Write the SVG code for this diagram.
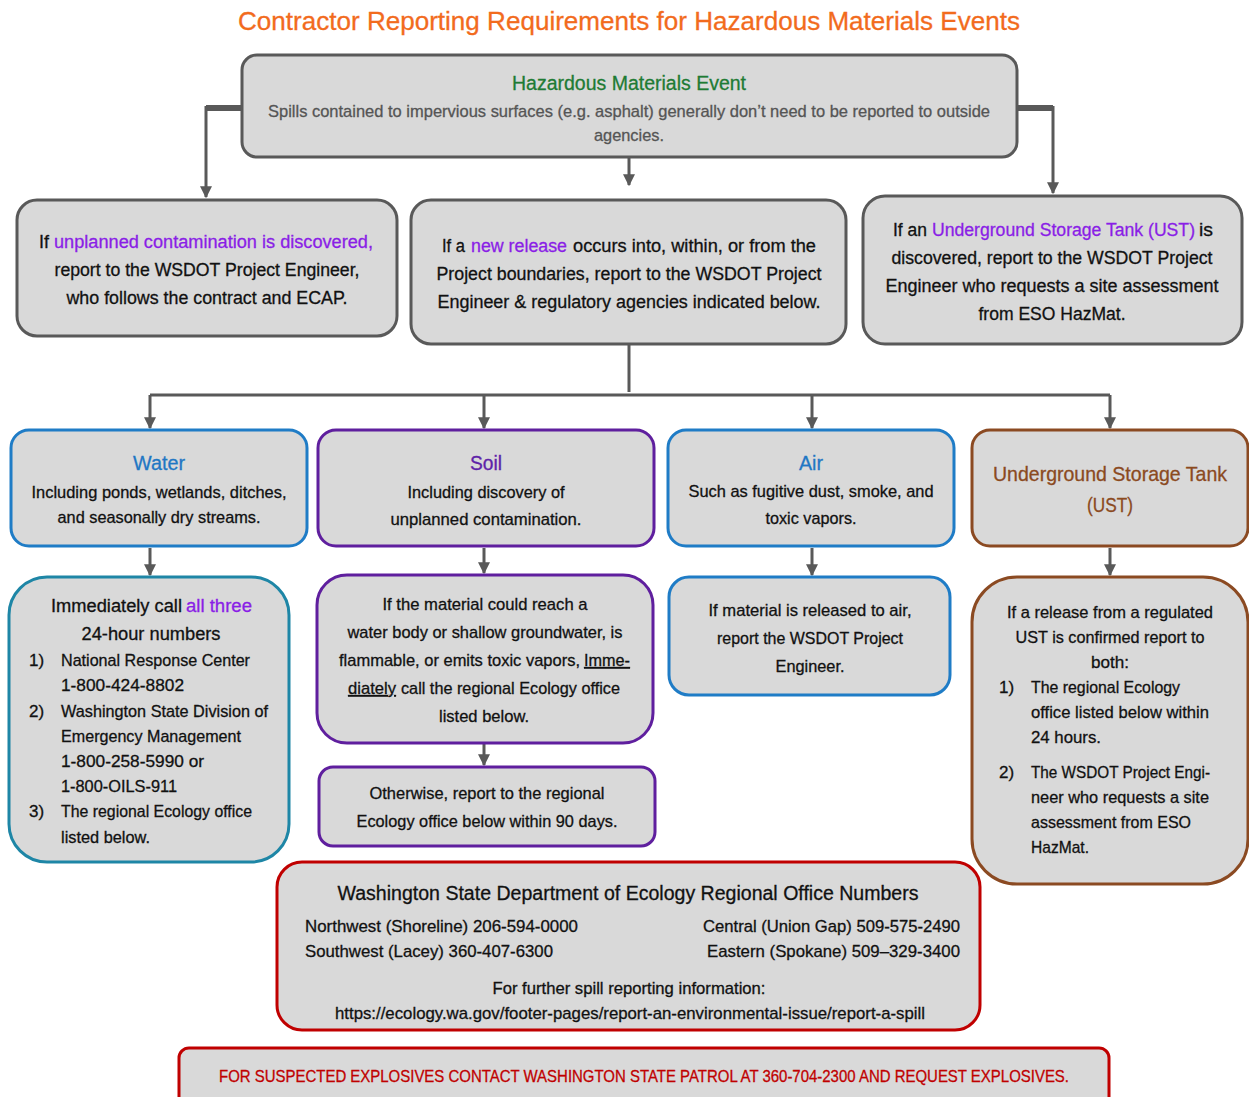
<svg xmlns="http://www.w3.org/2000/svg" width="1249" height="1097" viewBox="0 0 1249 1097">
<defs>
<marker id="ah" viewBox="0 0 10 10" refX="9" refY="5" markerWidth="4" markerHeight="4" orient="auto" markerUnits="strokeWidth">
<path d="M0,0 L10,5 L0,10 z" fill="#595959"/>
</marker>
<style>
text{font-family:"Liberation Sans",Arial,sans-serif;fill:#111;stroke:#111;stroke-width:0.3;}
.b{fill:#d9d9d9;stroke-width:3;}
.g{stroke:#595959;}
.bl{stroke:#1f7cc6;}
.tl{stroke:#1e86a6;}
.pu{stroke:#5f1f9e;}
.br{stroke:#8b4a22;}
.rd{stroke:#c00000;}
.t{font-size:18px;text-anchor:middle;}
.s{font-size:18px;}
.l{font-size:17px;}
.c{text-anchor:middle;}
.vi{fill:#8a1ee6;stroke:#8a1ee6;}
.conn path{fill:none;stroke:#595959;stroke-width:3;}
</style>
</defs>
<rect width="1249" height="1097" fill="#ffffff"/>
<text x="629" y="30" style="font-size:26px;fill:#f26b1d;stroke:#f26b1d" class="c" textLength="782" lengthAdjust="spacingAndGlyphs">Contractor Reporting Requirements for Hazardous Materials Events</text>

<g class="conn">
<path d="M242,108 H206" style="stroke-width:6"/>
<path d="M206,106 V197" marker-end="url(#ah)"/>
<path d="M1017,108 H1053" style="stroke-width:6"/>
<path d="M1053,106 V193" marker-end="url(#ah)"/>
<path d="M629,158 V185" marker-end="url(#ah)"/>
<path d="M629,345 V392"/>
<path d="M150,395 H1110"/>
<path d="M150,395 V428" marker-end="url(#ah)"/>
<path d="M484,395 V428" marker-end="url(#ah)"/>
<path d="M812,395 V428" marker-end="url(#ah)"/>
<path d="M1110,395 V428" marker-end="url(#ah)"/>
<path d="M150,548 V575" marker-end="url(#ah)"/>
<path d="M484,548 V573" marker-end="url(#ah)"/>
<path d="M812,548 V575" marker-end="url(#ah)"/>
<path d="M1110,548 V575" marker-end="url(#ah)"/>
<path d="M484,744 V765" marker-end="url(#ah)"/>
</g>

<g id="top">
<rect class="b g" x="242" y="55" width="775" height="102" rx="15"/>
<text x="629" y="90" style="font-size:20px;fill:#1e7b34;stroke:#1e7b34" class="c" textLength="234" lengthAdjust="spacingAndGlyphs">Hazardous Materials Event</text>
<text x="629" y="117" style="font-size:17px;fill:#555;stroke:#555" class="c" textLength="722" lengthAdjust="spacingAndGlyphs">Spills contained to impervious surfaces (e.g. asphalt) generally don’t need to be reported to outside</text>
<text x="629" y="141" style="font-size:17px;fill:#555;stroke:#555" class="c" textLength="70" lengthAdjust="spacingAndGlyphs">agencies.</text>
</g>

<g id="unplanned">
<rect class="b g" x="17" y="200" width="380" height="136" rx="20"/>
<text class="s" x="39" y="248" textLength="10" lengthAdjust="spacingAndGlyphs">If</text>
<text class="s vi" x="54" y="248" textLength="319" lengthAdjust="spacingAndGlyphs">unplanned contamination is discovered,</text>
<text class="t" x="207" y="276" textLength="305" lengthAdjust="spacingAndGlyphs">report to the WSDOT Project Engineer,</text>
<text class="t" x="207" y="304" textLength="281" lengthAdjust="spacingAndGlyphs">who follows the contract and ECAP.</text>
</g>

<g id="newrelease">
<rect class="b g" x="411" y="200" width="435" height="144" rx="20"/>
<text class="s" x="442" y="252" textLength="23" lengthAdjust="spacingAndGlyphs">If a</text>
<text class="s vi" x="471" y="252" textLength="96" lengthAdjust="spacingAndGlyphs">new release</text>
<text class="s" x="573" y="252" textLength="243" lengthAdjust="spacingAndGlyphs">occurs into, within, or from the</text>
<text class="t" x="629" y="280" textLength="385" lengthAdjust="spacingAndGlyphs">Project boundaries, report to the WSDOT Project</text>
<text class="t" x="629" y="308" textLength="383" lengthAdjust="spacingAndGlyphs">Engineer &amp; regulatory agencies indicated below.</text>
</g>

<g id="ustfound">
<rect class="b g" x="863" y="196" width="379" height="148" rx="22"/>
<text class="s" x="893" y="236" textLength="34" lengthAdjust="spacingAndGlyphs">If an</text>
<text class="s vi" x="932" y="236" textLength="263" lengthAdjust="spacingAndGlyphs">Underground Storage Tank (UST)</text>
<text class="s" x="1199" y="236" textLength="14" lengthAdjust="spacingAndGlyphs">is</text>
<text class="t" x="1052" y="264" textLength="321" lengthAdjust="spacingAndGlyphs">discovered, report to the WSDOT Project</text>
<text class="t" x="1052" y="292" textLength="333" lengthAdjust="spacingAndGlyphs">Engineer who requests a site assessment</text>
<text class="t" x="1052" y="320" textLength="147" lengthAdjust="spacingAndGlyphs">from ESO HazMat.</text>
</g>

<g id="water">
<rect class="b bl" x="11" y="430" width="296" height="116" rx="18"/>
<text x="159" y="470" style="font-size:20px;fill:#1f77c4;stroke:#1f77c4" class="c" textLength="52" lengthAdjust="spacingAndGlyphs">Water</text>
<text class="t" x="159" y="498" style="font-size:17px" textLength="255" lengthAdjust="spacingAndGlyphs">Including ponds, wetlands, ditches,</text>
<text class="t" x="159" y="523" style="font-size:17px" textLength="203" lengthAdjust="spacingAndGlyphs">and seasonally dry streams.</text>
</g>

<g id="soil">
<rect class="b pu" x="318" y="430" width="336" height="116" rx="18"/>
<text x="486" y="470" style="font-size:20px;fill:#5e22a8;stroke:#5e22a8" class="c" textLength="32" lengthAdjust="spacingAndGlyphs">Soil</text>
<text class="t" x="486" y="498" style="font-size:17px" textLength="157" lengthAdjust="spacingAndGlyphs">Including discovery of</text>
<text class="t" x="486" y="525" style="font-size:17px" textLength="191" lengthAdjust="spacingAndGlyphs">unplanned contamination.</text>
</g>

<g id="air">
<rect class="b bl" x="668" y="430" width="286" height="116" rx="18"/>
<text x="811" y="470" style="font-size:20px;fill:#1f77c4;stroke:#1f77c4" class="c" textLength="24" lengthAdjust="spacingAndGlyphs">Air</text>
<text class="t" x="811" y="497" style="font-size:17px" textLength="245" lengthAdjust="spacingAndGlyphs">Such as fugitive dust, smoke, and</text>
<text class="t" x="811" y="524" style="font-size:17px" textLength="91" lengthAdjust="spacingAndGlyphs">toxic vapors.</text>
</g>

<g id="ust">
<rect class="b br" x="972" y="430" width="276" height="116" rx="18"/>
<text x="1110" y="481" style="font-size:21px;fill:#8b4a1f;stroke:#8b4a1f" class="c" textLength="234" lengthAdjust="spacingAndGlyphs">Underground Storage Tank</text>
<text x="1110" y="512" style="font-size:21px;fill:#8b4a1f;stroke:#8b4a1f" class="c" textLength="46" lengthAdjust="spacingAndGlyphs">(UST)</text>
</g>

<g id="watercall">
<rect class="b tl" x="9" y="577" width="280" height="285" rx="38"/>
<text x="51" y="612" style="font-size:17.5px" textLength="131" lengthAdjust="spacingAndGlyphs">Immediately call</text>
<text class="vi" x="186" y="612" style="font-size:17.5px" textLength="66" lengthAdjust="spacingAndGlyphs">all three</text>
<text class="t" x="151" y="640" style="font-size:17.5px" textLength="139" lengthAdjust="spacingAndGlyphs">24-hour numbers</text>
<text class="l" x="29" y="666">1)</text>
<text class="l" x="61" y="666" textLength="189" lengthAdjust="spacingAndGlyphs">National Response Center</text>
<text class="l" x="61" y="691" textLength="123" lengthAdjust="spacingAndGlyphs">1-800-424-8802</text>
<text class="l" x="29" y="717">2)</text>
<text class="l" x="61" y="717" textLength="207" lengthAdjust="spacingAndGlyphs">Washington State Division of</text>
<text class="l" x="61" y="742" textLength="180" lengthAdjust="spacingAndGlyphs">Emergency Management</text>
<text class="l" x="61" y="767" textLength="143" lengthAdjust="spacingAndGlyphs">1-800-258-5990 or</text>
<text class="l" x="61" y="792" textLength="116" lengthAdjust="spacingAndGlyphs">1-800-OILS-911</text>
<text class="l" x="29" y="817">3)</text>
<text class="l" x="61" y="817" textLength="191" lengthAdjust="spacingAndGlyphs">The regional Ecology office</text>
<text class="l" x="61" y="843" textLength="89" lengthAdjust="spacingAndGlyphs">listed below.</text>
</g>

<g id="soilimmediate">
<rect class="b pu" x="317" y="575" width="336" height="168" rx="30"/>
<text class="t" x="485" y="610" style="font-size:17px" textLength="205" lengthAdjust="spacingAndGlyphs">If the material could reach a</text>
<text class="t" x="485" y="638" style="font-size:17px" textLength="275" lengthAdjust="spacingAndGlyphs">water body or shallow groundwater, is</text>
<text class="l" x="339" y="666" textLength="241" lengthAdjust="spacingAndGlyphs">flammable, or emits toxic vapors,</text>
<text class="l" x="584" y="666" textLength="46" lengthAdjust="spacingAndGlyphs" text-decoration="underline">Imme-</text>
<text class="l" x="348" y="694" textLength="48" lengthAdjust="spacingAndGlyphs" text-decoration="underline">diately</text>
<text class="l" x="401" y="694" textLength="219" lengthAdjust="spacingAndGlyphs">call the regional Ecology office</text>
<text class="t" x="484" y="722" style="font-size:17px" textLength="90" lengthAdjust="spacingAndGlyphs">listed below.</text>
</g>

<g id="soilotherwise">
<rect class="b pu" x="319" y="767" width="336" height="79" rx="14"/>
<text class="t" x="487" y="799" style="font-size:17px" textLength="235" lengthAdjust="spacingAndGlyphs">Otherwise, report to the regional</text>
<text class="t" x="487" y="827" style="font-size:17px" textLength="261" lengthAdjust="spacingAndGlyphs">Ecology office below within 90 days.</text>
</g>

<g id="airreport">
<rect class="b bl" x="669" y="577" width="281" height="118" rx="20"/>
<text class="t" x="810" y="616" style="font-size:17px" textLength="203" lengthAdjust="spacingAndGlyphs">If material is released to air,</text>
<text class="t" x="810" y="644" style="font-size:17px" textLength="186" lengthAdjust="spacingAndGlyphs">report the WSDOT Project</text>
<text class="t" x="810" y="672" style="font-size:17px" textLength="69" lengthAdjust="spacingAndGlyphs">Engineer.</text>
</g>

<g id="ustreport">
<rect class="b br" x="972" y="577" width="276" height="307" rx="45"/>
<text class="t" x="1110" y="618" style="font-size:17px" textLength="206" lengthAdjust="spacingAndGlyphs">If a release from a regulated</text>
<text class="t" x="1110" y="643" style="font-size:17px" textLength="189" lengthAdjust="spacingAndGlyphs">UST is confirmed report to</text>
<text class="t" x="1110" y="668" style="font-size:17px" textLength="38" lengthAdjust="spacingAndGlyphs">both:</text>
<text class="l" x="999" y="693">1)</text>
<text class="l" x="1031" y="693" textLength="149" lengthAdjust="spacingAndGlyphs">The regional Ecology</text>
<text class="l" x="1031" y="718" textLength="178" lengthAdjust="spacingAndGlyphs">office listed below within</text>
<text class="l" x="1031" y="743" textLength="70" lengthAdjust="spacingAndGlyphs">24 hours.</text>
<text class="l" x="999" y="778">2)</text>
<text class="l" x="1031" y="778" textLength="179" lengthAdjust="spacingAndGlyphs">The WSDOT Project Engi-</text>
<text class="l" x="1031" y="803" textLength="178" lengthAdjust="spacingAndGlyphs">neer who requests a site</text>
<text class="l" x="1031" y="828" textLength="160" lengthAdjust="spacingAndGlyphs">assessment from ESO</text>
<text class="l" x="1031" y="853" textLength="58" lengthAdjust="spacingAndGlyphs">HazMat.</text>
</g>

<g id="ecology">
<rect class="b rd" x="277" y="862" width="703" height="168" rx="25"/>
<text x="628" y="900" style="font-size:20px" class="c" textLength="581" lengthAdjust="spacingAndGlyphs">Washington State Department of Ecology Regional Office Numbers</text>
<text class="l" x="305" y="932" textLength="273" lengthAdjust="spacingAndGlyphs">Northwest (Shoreline) 206-594-0000</text>
<text class="l" x="305" y="957" textLength="248" lengthAdjust="spacingAndGlyphs">Southwest (Lacey) 360-407-6300</text>
<text class="l" x="703" y="932" textLength="257" lengthAdjust="spacingAndGlyphs">Central (Union Gap) 509-575-2490</text>
<text class="l" x="707" y="957" textLength="253" lengthAdjust="spacingAndGlyphs">Eastern (Spokane) 509–329-3400</text>
<text class="l c" x="629" y="994" textLength="273" lengthAdjust="spacingAndGlyphs">For further spill reporting information:</text>
<text class="l c" x="630" y="1019" textLength="590" lengthAdjust="spacingAndGlyphs">https://ecology.wa.gov/footer-pages/report-an-environmental-issue/report-a-spill</text>
</g>

<g id="explosives">
<rect class="b rd" x="179" y="1048" width="930" height="60" rx="10"/>
<text x="644" y="1082" style="font-size:17px;fill:#c00000;stroke:#c00000" class="c" textLength="850" lengthAdjust="spacingAndGlyphs">FOR SUSPECTED EXPLOSIVES CONTACT WASHINGTON STATE PATROL AT 360-704-2300 AND REQUEST EXPLOSIVES.</text>
</g>
</svg>
